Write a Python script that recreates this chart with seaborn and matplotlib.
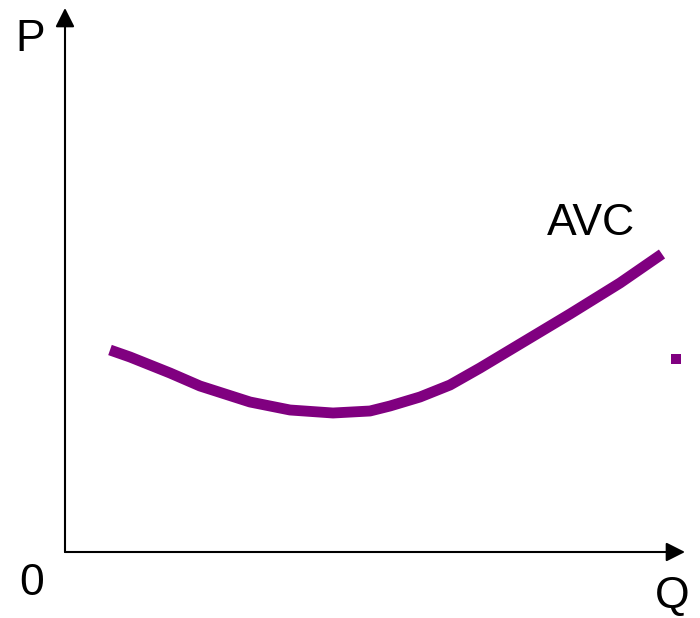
import numpy as np
import pandas as pd
import matplotlib
matplotlib.use("Agg")
import matplotlib.pyplot as plt
import seaborn as sns

# curve (Q along x, P up), origin at the axes corner
q_vals = [45, 65, 85, 105, 135, 185, 225, 268, 305, 325, 355, 385, 415, 455, 505, 555, 597]
p_vals = [202, 195, 187, 179, 166, 150, 142, 139, 141, 146, 155, 167, 184, 208, 238, 269, 298]
dot_q = [611]
dot_p = [193]
curve_label = "AVC"

PURPLE = "#800080"

sns.set_style("white")
plt.rcParams["font.family"] = ["Liberation Sans", "DejaVu Sans"]
plt.rcParams["text.color"] = "black"

df = pd.DataFrame({"Q": q_vals, "P": p_vals})
dots = pd.DataFrame({"Q": dot_q, "P": dot_p})

fig = plt.figure(figsize=(7, 6.18), dpi=100)
ax = fig.add_axes([65 / 700, 66 / 618, 635 / 700, 552 / 618])
ax.set_xlim(0, 635)
ax.set_ylim(0, 552)

sns.lineplot(data=df, x="Q", y="P", ax=ax, color=PURPLE, linewidth=7.8,
             sort=False, solid_capstyle="butt", solid_joinstyle="round")
sns.scatterplot(data=dots, x="Q", y="P", ax=ax, color=PURPLE, marker="s",
                s=60, linewidth=0)

# axes drawn as arrows
arrow = dict(arrowstyle="-|>,head_length=1.15,head_width=0.58", color="black",
             lw=1.5, shrinkA=0, shrinkB=0, mutation_scale=10)
ax.annotate("", xy=(0, 544), xytext=(0, 0), arrowprops=arrow, annotation_clip=False)
ax.annotate("", xy=(620, 0), xytext=(0, 0), arrowprops=arrow, annotation_clip=False)

for s in ax.spines.values():
    s.set_visible(False)
ax.set_xticks([])
ax.set_yticks([])
ax.set_xlabel("")
ax.set_ylabel("")

fs = 32
ax.text(-35, 501, "P", fontsize=fs, ha="center", va="baseline", clip_on=False)
ax.text(-33.5, -43, "0", fontsize=fs, ha="center", va="baseline", clip_on=False)
ax.text(607, -56, "Q", fontsize=fs, ha="center", va="baseline", clip_on=False)
ax.text(526, 317, curve_label, fontsize=fs, ha="center", va="baseline")

fig.savefig("out.png", dpi=100)
